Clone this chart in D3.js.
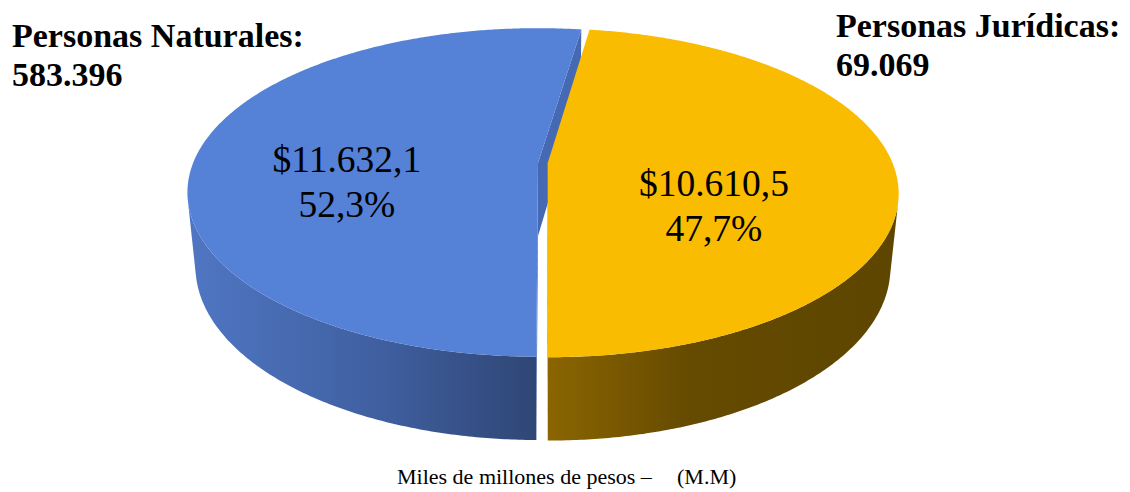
<!DOCTYPE html>
<html>
<head>
<meta charset="utf-8">
<script src="https://cdn.jsdelivr.net/npm/d3@7"></script>
<style>
body{margin:0;background:#fff;}
svg{display:block;font-family:"Liberation Serif","Times New Roman",serif;}
</style>
</head>
<body>
<svg id="chart"></svg>
<script>
//Data
const categories = ["Personas Jurídicas", "Personas Naturales"];
const amounts = [10610.5, 11632.1];     // miles de millones de pesos
const people = [69069, 583396];
const footerParts = ["Miles de millones de pesos –", "(M.M)"];

//Colours
const topColors = ["#F9BC00", "#5581D7"];
const wallStops = [["#8A6500", "#654A00", "#5E4600"], ["#5076C3", "#3F5FA0", "#2F4674"]];
const cutColors = ["#7A5A00", "#4569B3"];

//Spanish number formats: $10.610,5  47,7%  69.069
const es = d3.formatLocale({decimal: ",", thousands: ".", grouping: [3], currency: ["$", ""]});
const fmtAmount = es.format("$,.1f"), fmtPct = es.format(".1%"), fmtCount = es.format(",d");

const [w, h] = [1130, 492];
const svg = d3.select("#chart").attr("width", w).attr("height", h);

//Perspective camera for the 3D pie (radius 1 in world units)
const [cx, cy] = [538, 163];
const tilt = Math.asin(0.461);
const camDist = 4.955, focal = 1709, thick = 0.244;
const explode = [0.028, 0];
const sinT = Math.sin(tilt), cosT = Math.cos(tilt);

function project(x, y, z){
	const depth = camDist - y * sinT - z * cosT;
	const up = y * cosT - z * sinT;
	return [cx + focal * x / depth, cy - focal * up / depth];
}

//pie angle: 0 at the back (12 o'clock), clockwise
const pie = d3.pie().sort(null).startAngle(8.5 * Math.PI / 180).endAngle(8.5 * Math.PI / 180 + 2 * Math.PI);
const arcs = pie(amounts);

arcs.forEach((d, i) => {
	const mid = (d.startAngle + d.endAngle) / 2;
	d.off = [explode[i] * Math.sin(mid), -explode[i] * Math.cos(mid)];
	d.i = i;
});

const pt = (d, a, r, y) => project(d.off[0] + r * Math.sin(a), y, d.off[1] - r * Math.cos(a));
const samples = (a0, a1) => d3.range(a0, a1, Math.PI / 360).concat([a1]);
const line = d3.line();

//the side of the cylinder that faces the camera
const visLimit = Math.acos(-1 / (camDist * cosT));
const visRange = [visLimit, 2 * Math.PI - visLimit];

//gradients for the walls
const defs = svg.append("defs");
const gradX = [[548, 690, 900], [190, 380, 540]];
arcs.forEach((d, i) => {
	const g = defs.append("linearGradient").attr("id", "wall" + i).attr("gradientUnits", "userSpaceOnUse")
		.attr("x1", gradX[i][0]).attr("x2", gradX[i][2]).attr("y1", 0).attr("y2", 0);
	wallStops[i].forEach((c, k) => {
		g.append("stop").attr("offset", (gradX[i][k] - gradX[i][0]) / (gradX[i][2] - gradX[i][0])).attr("stop-color", c);
	});
});

const chart = svg.append("g");

//radial cut faces (only those facing the camera)
arcs.forEach(d => {
	[[d.startAngle, -1], [d.endAngle, 1]].forEach(([a, s]) => {
		const n = [s * Math.cos(a), s * Math.sin(a)];
		const toCam = [-d.off[0], camDist * sinT, camDist * cosT - d.off[1]];
		if(n[0] * toCam[0] + n[1] * toCam[2] <= 0) return;
		const poly = [pt(d, a, 0, 0), pt(d, a, 1, 0), pt(d, a, 1, -thick), pt(d, a, 0, -thick)];
		chart.append("path").attr("d", line(poly) + "Z").attr("fill", cutColors[d.i]);
	});
});

//outer walls
arcs.forEach(d => {
	const a0 = Math.max(d.startAngle, visRange[0]), a1 = Math.min(d.endAngle, visRange[1]);
	if(a1 <= a0) return;
	const ang = samples(a0, a1);
	const poly = ang.map(a => pt(d, a, 1, 0)).concat(ang.slice().reverse().map(a => pt(d, a, 1, -thick)));
	chart.append("path").attr("d", line(poly) + "Z").attr("fill", `url(#wall${d.i})`);
});

//top faces
arcs.forEach(d => {
	const poly = [pt(d, 0, 0, 0)].concat(samples(d.startAngle, d.endAngle).map(a => pt(d, a, 1, 0)));
	chart.append("path").attr("d", line(poly) + "Z").attr("fill", topColors[d.i]);
});

//data labels inside the slices
const total = d3.sum(amounts);
const labelPos = [{r: 0.48, dy: 27}, {r: 0.56, dy: 16}];
arcs.forEach(d => {
	const mid = (d.startAngle + d.endAngle) / 2;
	const [lx, ly] = pt(d, mid, labelPos[d.i].r, 0);
	const t = svg.append("text").attr("text-anchor", "middle").attr("font-size", 37.5).attr("fill", "#000");
	t.append("tspan").attr("x", lx).attr("y", ly + labelPos[d.i].dy).text(fmtAmount(d.data));
	t.append("tspan").attr("x", lx).attr("y", ly + labelPos[d.i].dy + 45).text(fmtPct(d.data / total));
});

//category titles
const titlePos = [{x: 836, y: 37}, {x: 12, y: 47}];
categories.forEach((c, i) => {
	const t = svg.append("text").attr("font-size", 34).attr("font-weight", "bold").attr("fill", "#000");
	t.append("tspan").attr("x", titlePos[i].x).attr("y", titlePos[i].y).text(c + ":");
	t.append("tspan").attr("x", titlePos[i].x).attr("y", titlePos[i].y + 39).text(fmtCount(people[i]));
});

//footer
const foot = svg.append("text").attr("y", 484).attr("font-size", 22).attr("fill", "#000");
foot.append("tspan").attr("x", 397).text(footerParts[0]);
foot.append("tspan").attr("x", 677).text(footerParts[1]);
</script>
</body>
</html>
